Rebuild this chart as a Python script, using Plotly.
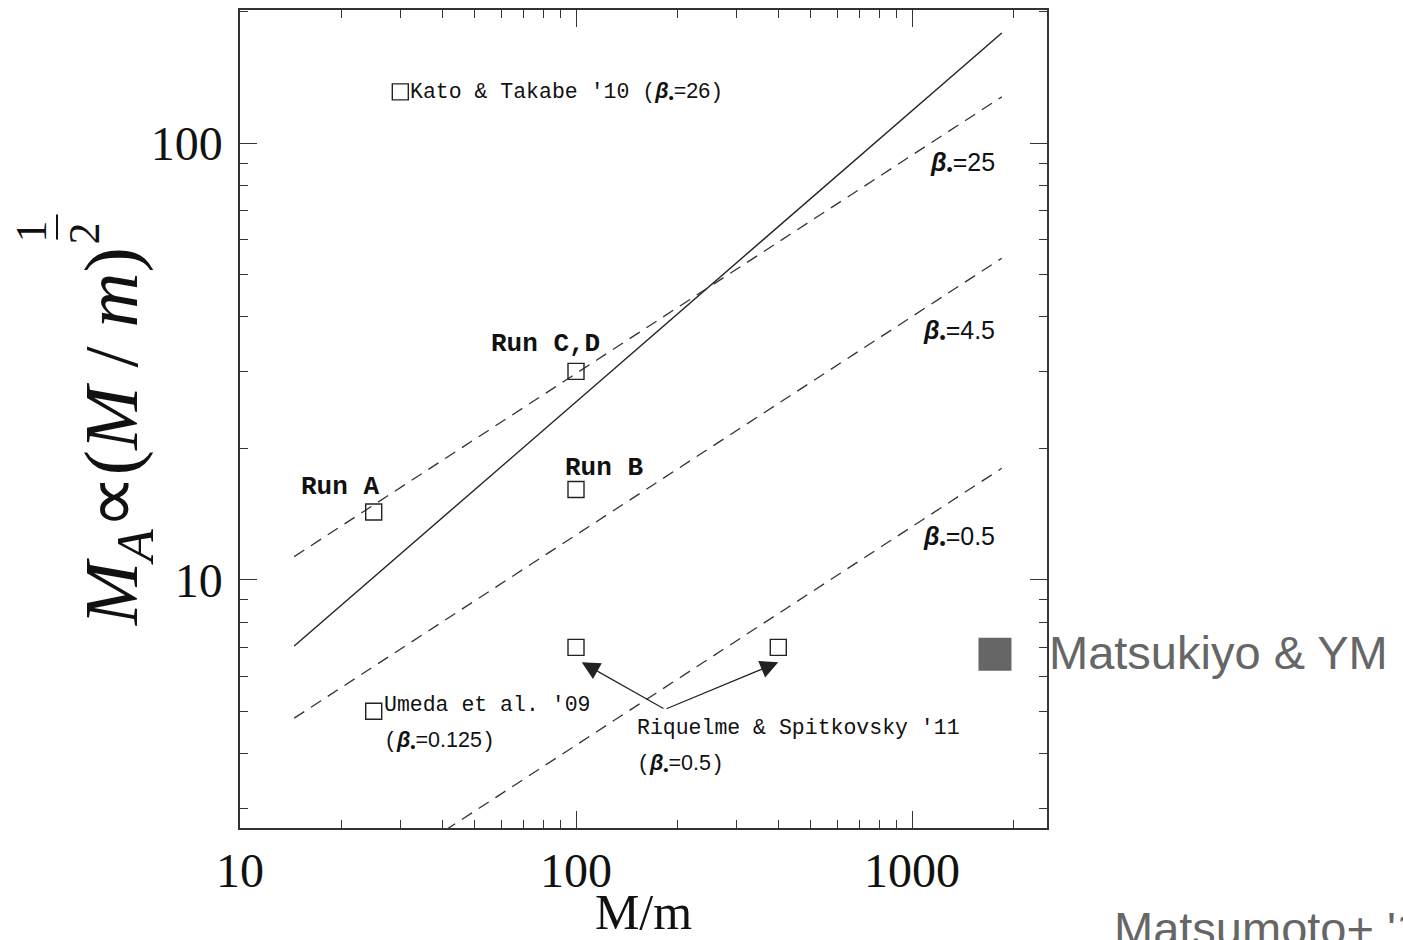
import numpy as np
import plotly.graph_objects as go

# ---------------- data ----------------
line_x = [14.5, 1850]
solid_y = [7.05, 178.7]
beta25_y = [11.3, 127.6]
beta45_y = [4.82, 54.5]
beta05_y = [1.59, 18.0]

kato_x, kato_y = [30], [131]
runA_x, runA_y = [25], [14.3]
runCD_x, runCD_y = [100], [30]
runB_x, runB_y = [100], [16.1]
riq_x, riq_y = [100, 400], [7.0, 7.0]
umeda_x, umeda_y = [25], [5.0]
mats_x, mats_y = [1766], [6.75]
arrow_origin = (184, 5.05)
arrow_tips_x = [104, 400]
arrow_tips_y = [6.47, 6.47]

beta_labels = ["25", "4.5", "0.5"]
beta_label_x = [1790, 1790, 1790]
beta_label_y = [89.5, 37.0, 12.47]

MONO = "Courier New, Nimbus Mono PS, FreeMono, Liberation Mono, monospace"
SANS = "Liberation Sans, Arial, sans-serif"
SERIF = "Liberation Serif, Times New Roman, serif"

def beta(val):
    return ("<span style='font-family:Liberation Sans, Arial'><b><i>β</i></b>"
            "<sub>•</sub>=" + val + "</span>")

fig = go.Figure()

fig.add_trace(go.Scatter(x=line_x, y=solid_y, mode="lines",
                         line=dict(color="#222", width=1.4), showlegend=False))
for ys in (beta25_y, beta45_y, beta05_y):
    fig.add_trace(go.Scatter(x=line_x, y=ys, mode="lines",
                             line=dict(color="#333", width=1.3, dash="12px,8px"),
                             showlegend=False))

pts_x = kato_x + runA_x + runCD_x + runB_x + riq_x + umeda_x
pts_y = kato_y + runA_y + runCD_y + runB_y + riq_y + umeda_y
fig.add_trace(go.Scatter(x=pts_x, y=pts_y, mode="markers",
                         marker=dict(symbol="square-open", size=16, color="#222",
                                     line=dict(width=1.4)),
                         showlegend=False, cliponaxis=False))
fig.add_trace(go.Scatter(x=mats_x, y=mats_y, mode="markers",
                         marker=dict(symbol="square", size=33, color="#666666"),
                         showlegend=False, cliponaxis=False))

L = np.log10
ann = []
def txt(x, y, text, font, xanchor="left", yanchor="middle", xshift=0, yshift=0):
    ann.append(dict(x=L(x), y=L(y), xref="x", yref="y", text=text, showarrow=False,
                    xanchor=xanchor, yanchor=yanchor, xshift=xshift, yshift=yshift,
                    font=font))

mono = dict(family=MONO, size=21.5, color="#111")
monob = dict(family=MONO, size=26, color="#111")

txt(kato_x[0], kato_y[0], "Kato & Takabe '10 (" + beta("26") + ")", mono, xshift=8, yshift=-1)
txt(runA_x[0], runA_y[0], "<b>Run A</b>", monob, xanchor="right", xshift=7, yshift=25)
txt(runCD_x[0], runCD_y[0], "<b>Run C,D</b>", monob, xanchor="right", xshift=26, yshift=27)
txt(runB_x[0], runB_y[0], "<b>Run B</b>", monob, xanchor="left", xshift=-13, yshift=21)
txt(umeda_x[0], umeda_y[0], "Umeda et al. '09", mono, xshift=8, yshift=6)
txt(umeda_x[0], umeda_y[0], "(" + beta("0.125") + ")", mono, xshift=8, yshift=-30)
txt(arrow_origin[0], arrow_origin[1], "Riquelme & Spitkovsky '11", mono, xshift=-30, yshift=-19)
txt(arrow_origin[0], arrow_origin[1], "(" + beta("0.5") + ")", mono, xshift=-30, yshift=-55)
for lab, bx, by in zip(beta_labels, beta_label_x, beta_label_y):
    ann.append(dict(x=L(bx), y=L(by), xref="x", yref="y", text="<b><i>β</i></b><sub>•</sub>=" + lab,
                    showarrow=False, xanchor="right", yanchor="middle",
                    font=dict(family=SANS, size=25, color="#111")))

for tx, ty in zip(arrow_tips_x, arrow_tips_y):
    ann.append(dict(x=L(tx), y=L(ty),
                    xref="x", yref="y", ax=L(arrow_origin[0]), ay=L(arrow_origin[1]),
                    axref="x", ayref="y", text="", showarrow=True, arrowhead=2,
                    arrowsize=3, arrowwidth=1.2, arrowcolor="#222"))

txt(mats_x[0], mats_y[0], "Matsukiyo & YM", dict(family=SANS, size=47, color="#666666"),
    xshift=52, yshift=2)

def pxx(px):
    return (px - 240) / 807
def pxy(py):
    return (828 - py) / 820

# Matsumoto label (cut off at page bottom, as in the reference)
ann.append(dict(x=pxx(1112), y=pxy(900), xref="paper", yref="paper",
                text="Matsumoto+ '12", showarrow=False, xanchor="left", yanchor="top",
                font=dict(family=SANS, size=47, color="#666666")))

# y-axis title built from rotated pieces
ann.append(dict(x=pxx(117), y=pxy(436), xref="paper", yref="paper", textangle=-90,
                text="<i>M</i><sub><i>A</i></sub>∝(<i>M</i> / <i>m</i>)",
                showarrow=False, xanchor="center", yanchor="middle",
                font=dict(family=SERIF, size=76, color="#111")))
ann.append(dict(x=pxx(31), y=pxy(230), xref="paper", yref="paper", textangle=-90,
                text="1", showarrow=False, xanchor="center", yanchor="middle",
                font=dict(family=SERIF, size=44, color="#111")))
ann.append(dict(x=pxx(84), y=pxy(232), xref="paper", yref="paper", textangle=-90,
                text="2", showarrow=False, xanchor="center", yanchor="middle",
                font=dict(family=SERIF, size=44, color="#111")))

shapes = [dict(type="line", xref="paper", yref="paper", x0=pxx(57), x1=pxx(57),
               y0=pxy(213), y1=pxy(238), line=dict(color="#111", width=2))]

axis_common = dict(type="log", showline=True, linecolor="#333", linewidth=1.5,
                   mirror="allticks", ticks="inside", ticklen=17, tickwidth=1.3,
                   tickcolor="#333", showgrid=False, zeroline=False, dtick=1,
                   tickfont=dict(family=SERIF, size=48, color="#111"),
                   minor=dict(ticks="inside", ticklen=8, tickwidth=1.2, tickcolor="#333",
                              dtick="D1", showgrid=False))

fig.update_layout(
    width=1403, height=940,
    margin=dict(l=240, r=356, t=8, b=112),
    plot_bgcolor="white", paper_bgcolor="white",
    xaxis=dict(range=[1, 3.4018], ticklabelstandoff=0,
               title=dict(text="M/m", font=dict(family=SERIF, size=50, color="#111"), standoff=0),
               **axis_common),
    yaxis=dict(range=[0.4315, 2.3048], ticklabelstandoff=6, **axis_common),
    annotations=ann, shapes=shapes,
)

fig.write_html("out.html")
